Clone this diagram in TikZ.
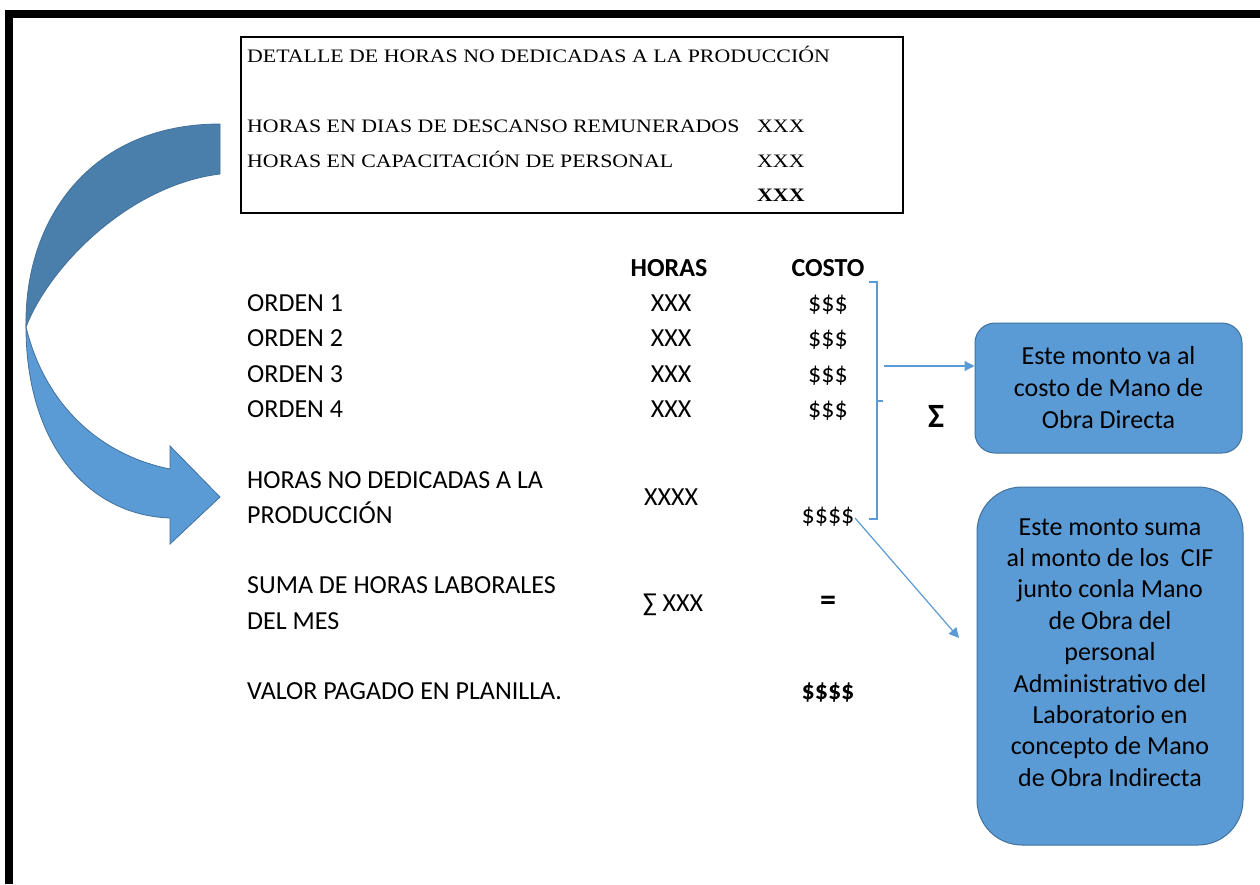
\documentclass[tikz,border=0pt]{standalone}
\usepackage{fontspec}
\setmainfont{Carlito}
\newfontfamily\boxserif[FakeStretch=1.15]{Liberation Serif}
\usetikzlibrary{arrows.meta}
\definecolor{ablue}{HTML}{5B9BD5}
\definecolor{dblue}{HTML}{41719C}
\definecolor{cdark}{HTML}{4A7EAB}
\begin{document}
\begin{tikzpicture}[x=1pt,y=-1pt,
  tbl/.style={font=\fontsize{26}{30}\selectfont, inner sep=0pt},
  tblw/.style={tbl, anchor=base west},
  tblc/.style={tbl, anchor=base},
  hdr/.style={tbl, anchor=base, font=\fontsize{26}{30}\selectfont\bfseries},
  ser/.style={font=\boxserif\fontsize{19}{22}\selectfont, inner sep=0pt, anchor=base west},
  note/.style={fill=ablue, draw=dblue, line width=1pt, align=center,
    font=\fontsize{26}{32}\selectfont, inner sep=0pt},
  conn/.style={draw=ablue, line width=1.2pt, -{Triangle[length=10pt,width=10pt]}},
  brace/.style={draw=ablue, line width=1.2pt},
  bandlight/.style={fill=ablue, draw=dblue, line width=0.8pt},
  banddark/.style={fill=cdark, draw=dblue, line width=0.8pt}
]
\useasboundingbox[fill=white] (0,0) rectangle (1260,884);
% outer frame
\draw[line width=8pt] (9,884) -- (9,14) -- (1260,14);

% top box
\node[draw, line width=2pt, minimum width=662pt, minimum height=176pt, inner sep=0pt] (topbox) at (572,125) {};
\node[ser] (t0) at (247,62) {DETALLE DE HORAS NO DEDICADAS A LA PRODUCCIÓN};
\node[ser] (t1) at (247,132) {HORAS EN DIAS DE DESCANSO REMUNERADOS};
\node[ser] (t1x) at (757,132) {XXX};
\node[ser] (t2) at (247,167) {HORAS EN CAPACITACIÓN DE PERSONAL};
\node[ser] (t2x) at (757,167) {XXX};
\node[ser, font=\boxserif\fontsize{19}{22}\selectfont\bfseries] (t3x) at (757,201) {XXX};

% curved arrow
\path[banddark] (220,124) .. controls (90,124) and (24,220) .. (26,327)
  .. controls (50,265) and (130,185) .. (220,174) -- cycle;
\path[bandlight] (26,327) .. controls (26,440) and (85,515) .. (170,518)
  -- (170,544) -- (220,497) -- (170,446) -- (170,469)
  .. controls (100,455) and (45,405) .. (26,327) -- cycle;

% table
\node[hdr] (hh) at (669,276) {HORAS};
\node[hdr] (hc) at (828,276) {COSTO};
\node[tblw] (o1) at (247,311) {ORDEN 1};
\node[tblw] (o2) at (247,346) {ORDEN 2};
\node[tblw] (o3) at (247,382) {ORDEN 3};
\node[tblw] (o4) at (247,417) {ORDEN 4};
\node[tblc] (h1) at (671,311) {XXX};
\node[tblc] (h2) at (671,346) {XXX};
\node[tblc] (h3) at (671,382) {XXX};
\node[tblc] (h4) at (671,417) {XXX};
\node[tblc] (c1) at (828,311) {\$\$\$};
\node[tblc] (c2) at (828,346) {\$\$\$};
\node[tblc] (c3) at (828,382) {\$\$\$};
\node[tblc] (c4) at (828,417) {\$\$\$};
\node[tblw] (n1) at (247,488) {HORAS NO DEDICADAS A LA};
\node[tblw] (n2) at (247,523) {PRODUCCIÓN};
\node[tblc] (h5) at (671,505) {XXXX};
\node[tblc] (c5) at (828,523) {\$\$\$\$};
\node[tblw] (s1) at (247,593) {SUMA DE HORAS LABORALES};
\node[tblw] (s2) at (247,629) {DEL MES};
\node[tblc] (h6) at (673,611) {∑ XXX};
\node[tbl, font=\fontsize{32}{34}\selectfont\bfseries] (eq) at (828,603) {=};
\node[tblw] (v1) at (247,699) {VALOR PAGADO EN PLANILLA.};
\node[hdr] (c7) at (828,699) {\$\$\$\$};

% bracket
\draw[brace] (869,282) -- (877,282) -- (877,519) -- (869,519);
\draw[brace] (877,401) -- (883,401);
\node[font=\fontsize{34}{36}\selectfont\bfseries, inner sep=0pt] (sig) at (936,416) {Σ};

% note boxes
\node[note, rounded corners=20pt, minimum width=267pt, minimum height=130pt] (box1) at (1108.5,388)
  {Este monto va al\\costo de Mano de\\Obra Directa};
\node[note, rounded corners=45pt, minimum width=266pt, minimum height=358pt] (box2) at (1110,666) {};
\node[align=center, font=\fontsize{26}{31.4}\selectfont, inner sep=0pt] (box2t) at (1110,652.5)
  {Este monto suma\\al monto de los\ \ CIF\\junto conla Mano\\de Obra del\\personal\\Administrativo del\\Laboratorio en\\concepto de Mano\\de Obra Indirecta};

% connectors
\coordinate (a1s) at (884,366);
\draw[conn] (a1s) -- (a1s -| box1.west);
\coordinate (a2s) at (855,518);
\coordinate (a2e) at (959,638);
\draw[conn] (a2s) -- (a2e);
\end{tikzpicture}
\end{document}
